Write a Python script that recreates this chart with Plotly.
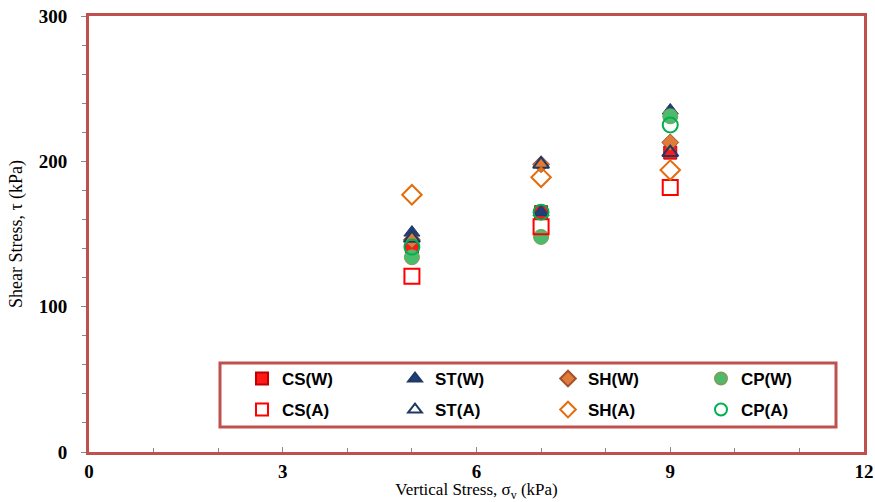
import plotly.graph_objects as go

x_vals = [5, 7, 9]
cs_w = [141, 165, 206]
st_w = [151, 165, 235]
sh_w = [146, 198, 213]
cp_w = [134, 148, 231]
cs_a = [121, 155, 182]
st_a = [147, 198, 206]
sh_a = [177, 189, 194]
cp_a = [141, 165, 225]

x_ticks = [0, 3, 6, 9, 12]
y_ticks = [0, 100, 200, 300]

series = [
    ("CS(W)", cs_w, "square", "#ff1a1a", "#c00000", 13, "legend"),
    ("ST(W)", st_w, "triangle-up", "#1f3f7a", "#1f3864", 14, "legend"),
    ("SH(W)", sh_w, "diamond", "#e07b39", "#a0522d", 13, "legend"),
    ("CP(W)", cp_w, "circle", "#4cbb6c", "#7aa05a", 15, "legend"),
    ("CS(A)", cs_a, "square-open", "#ff0000", "#ff0000", 15, "legend2"),
    ("ST(A)", st_a, "triangle-up-open", "#1f3864", "#1f3864", 14, "legend2"),
    ("SH(A)", sh_a, "diamond-open", "#e46c0a", "#e46c0a", 15, "legend2"),
    ("CP(A)", cp_a, "circle-open", "#00b050", "#00b050", 15, "legend2"),
]

fig = go.Figure()
for name, vals, sym, col, lcol, size, lg in series:
    fig.add_trace(go.Scatter(
        x=x_vals, y=vals, mode="markers", name=name, legend=lg,
        marker=dict(symbol=sym, size=size, color=col,
                    line=dict(color=lcol, width=2 if "open" in sym else 1)),
    ))

PL, PR, PT, PB = 89, 864, 16, 452
W, H = 875, 502

def px_x(p):
    return (p - PL) / (PR - PL)

def px_y(p):
    return (PB - p) / (PB - PT)

legend_font = dict(family="Liberation Sans, Arial", size=17, color="#000000", weight="bold")
common_legend = dict(orientation="h", xanchor="left", yanchor="middle",
                     bgcolor="rgba(0,0,0,0)", borderwidth=0, font=legend_font,
                     itemsizing="constant",
                     entrywidth=108, entrywidthmode="pixels", itemclick=False)

fig.update_layout(
    width=W, height=H,
    margin=dict(l=PL, r=W - PR, t=PT, b=H - PB, autoexpand=False),
    paper_bgcolor="white", plot_bgcolor="white",
    showlegend=True,
    legend=dict(x=px_x(242), y=px_y(379), **common_legend),
    legend2=dict(x=px_x(242), y=px_y(410), **common_legend),
    xaxis=dict(range=[0, 12], tickvals=x_ticks, ticktext=[str(v) for v in x_ticks],
               showgrid=False, zeroline=False,
               showline=True, mirror=True, linecolor="#c0504d", linewidth=3,
               ticks="inside", ticklen=5, tickcolor="#888888",
               minor=dict(dtick=1, ticks="inside", ticklen=4, tickcolor="#888888"),
               tickfont=dict(family="Liberation Serif, Times New Roman", size=19, color="#000000", weight="bold"),
               title=dict(text="Vertical Stress, σ<sub>v</sub> (kPa)",
                          font=dict(family="Liberation Serif, Times New Roman", size=17, color="#000000"),
                          standoff=6)),
    yaxis=dict(range=[0, 300], tickvals=y_ticks, ticktext=[str(v) for v in y_ticks],
               showgrid=False, zeroline=False,
               showline=True, mirror=True, linecolor="#c0504d", linewidth=3,
               ticks="outside", ticklen=5, tickcolor="#888888",
               ticklabelstandoff=10,
               minor=dict(dtick=20, ticks="outside", ticklen=4, tickcolor="#888888"),
               tickfont=dict(family="Liberation Serif, Times New Roman", size=19, color="#000000", weight="bold"),
               title=dict(text="Shear Stress, τ (kPa)",
                          font=dict(family="Liberation Serif, Times New Roman", size=18, color="#000000"),
                          standoff=12)),
    shapes=[dict(type="rect", xref="paper", yref="paper",
                 x0=px_x(220), x1=px_x(836), y0=px_y(427), y1=px_y(363),
                 line=dict(color="#c0504d", width=3), fillcolor="rgba(0,0,0,0)")],
)

fig.write_html("out.html")
